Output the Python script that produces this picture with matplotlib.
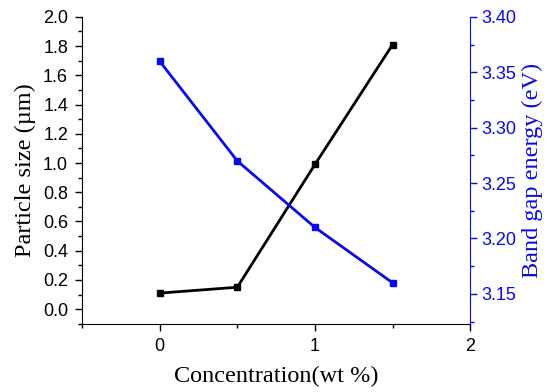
import matplotlib

matplotlib.use("Agg")
import matplotlib.pyplot as plt
from matplotlib.ticker import MultipleLocator

conc = [0, 0.5, 1.0, 1.5]
particle_size = [0.11, 0.15, 0.99, 1.81]
band_gap = [3.36, 3.27, 3.21, 3.16]

BLUE = "#0a0ae6"

fig = plt.figure(figsize=(5.5, 3.92), dpi=100)
ax = fig.add_axes([0.149, 0.174, 0.706, 0.783])
ax2 = ax.twinx()

ax.plot(conc, particle_size, color="black", lw=2, marker="s", ms=3.8)
ax2.plot(conc, band_gap, color=BLUE, lw=2, marker="s", ms=3.8)

ax.set_xlim(-0.5, 2.0)
ax.set_ylim(-0.1, 2.0)
ax2.set_ylim(3.123, 3.40)

ax.xaxis.set_minor_locator(MultipleLocator(0.5))
ax.yaxis.set_minor_locator(MultipleLocator(0.1))
ax2.yaxis.set_minor_locator(MultipleLocator(0.025))

tick_font = {"family": "Liberation Sans", "size": 13}
for a in (ax, ax2):
    a.spines["top"].set_visible(False)
ax.spines["right"].set_visible(False)
ax2.spines["left"].set_visible(False)
ax2.spines["bottom"].set_visible(False)
ax2.spines["right"].set_color(BLUE)

ax.tick_params(which="both", direction="out", width=1)
ax.tick_params(which="major", length=5, pad=5)
ax.tick_params(which="minor", length=3)
ax2.tick_params(which="both", direction="out", colors=BLUE, width=1)
ax2.tick_params(which="major", length=5, pad=3)
ax2.tick_params(which="minor", length=3)

ax.set_xticks([0, 1, 2])
ax.set_xticklabels(["0", "1", "2"], fontdict=tick_font)
yt = [round(0.2 * i, 1) for i in range(11)]
ax.set_yticks(yt)
ax.set_yticklabels([f"{v:.1f}" for v in yt], fontdict=tick_font)
yt2 = [3.15, 3.20, 3.25, 3.30, 3.35, 3.40]
ax2.set_yticks(yt2)
ax2.set_yticklabels([f"{v:.2f}" for v in yt2], fontdict=tick_font, color=BLUE)

label_font = {"family": "Liberation Serif", "size": 17.5}
ax.set_xlabel("Concentration(wt %)", fontdict=label_font, labelpad=8)
ax.set_ylabel("Particle size (\u00b5m)", fontdict=label_font, labelpad=5)
ax2.set_ylabel("Band gap energy (eV)", fontdict=label_font, color=BLUE, labelpad=4)

fig.savefig("out.png", dpi=100)
